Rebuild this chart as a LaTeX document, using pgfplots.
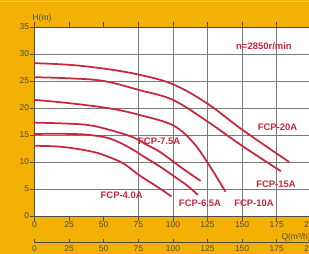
\documentclass[border=0pt]{standalone}
\usepackage{fontspec}
\setmainfont{Liberation Sans}
\usepackage{pgfplots}
\pgfplotsset{compat=1.18}
\definecolor{bgorange}{HTML}{F2B104}
\definecolor{curvered}{HTML}{C8283C}
\definecolor{gridgray}{HTML}{7A7A7A}
\definecolor{ticktext}{HTML}{4F4A40}
\tikzset{pump/.style={draw=curvered, line width=1.75bp, smooth, tension=0.6, mark=none}}
\begin{document}
\begin{tikzpicture}
\path[use as bounding box] (-34.5bp,-38bp) rectangle (274.5bp,216bp);
\clip (-34.5bp,-38bp) rectangle (274.5bp,216bp);
\fill[bgorange] (-34.5bp,-38bp) rectangle (274.5bp,216bp);
\draw[color=brown!45!white, line width=0.8bp] (-34.5bp,214.3bp) -- (274.5bp,214.3bp);
\begin{axis}[
  at={(0,0)}, anchor=south west,
  scale only axis, width=276.8bp, height=189bp,
  xmin=0, xmax=200, ymin=0, ymax=35,
  axis background/.style={fill=white},
  xtick={0,25,...,200}, ytick={0,5,...,35},
  tick align=outside, major tick length=4.5bp,
  ymajorgrids, minor xtick={75,100,...,200}, xminorgrids,
  minor tick length=0pt,
  grid style={gridgray, line width=0.6bp},
  minor grid style={gridgray, line width=0.6bp},
  axis line style={draw=black!70, line width=0.8bp},
  tick style={black!70, line width=0.6bp},
  ticklabel style={font=\fontsize{8.5}{9}\selectfont, text=ticktext},
  xticklabel style={inner sep=0.8bp},
  yticklabel style={inner sep=0.8bp},
  /pgf/number format/assume math mode=true,
  clip=false,
]
% FCP-20A
\addplot[pump] coordinates {(0,28.3)(25,28.0)(50,27.3)(75,26.2)(100,24.4)(125,20.8)(150,16.0)(184,10.0)};
% FCP-15A
\addplot[pump] coordinates {(0,25.7)(25,25.5)(50,25.0)(76,23.3)(100,21.5)(125,17.5)(150,13.0)(178,8.3)};
% FCP-10A
\addplot[pump] coordinates {(0,21.5)(25,20.9)(55,19.9)(76,18.7)(100,16.8)(115,13.5)(127,9.1)(138,4.5)};
% FCP-7.5A
\addplot[pump] coordinates {(0,17.3)(25,17.1)(40,16.8)(55,15.9)(71,14.6)(81,13.2)(91,11.8)(107,8.8)(120,6.5)};
% FCP-6.5A
\addplot[pump] coordinates {(0,15.2)(25,15.2)(40,15.0)(55,14.3)(69,12.6)(79,11.0)(91,9.1)(100,7.5)(110,5.7)(118,3.9)};
% FCP-4.0A
\addplot[pump] coordinates {(0,13.0)(20,12.8)(42,11.9)(55,10.8)(65,9.6)(76,7.5)(90,5.2)(99,3.6)};

\begin{scope}[every node/.style={font=\bfseries\fontsize{9.5}{10}\selectfont, text=curvered, inner sep=0.5bp}]
\node at (axis cs:175.6,16.4) {FCP-20A};
\node at (axis cs:174.5,5.9) {FCP-15A};
\node at (axis cs:158.6,2.4) {FCP-10A};
\node at (axis cs:119.6,2.4) {FCP-6.5A};
\node at (axis cs:90.1,13.9) {FCP-7.5A};
\node at (axis cs:63,3.9) {FCP-4.0A};
\node at (axis cs:165.8,31.5) {n=2850r/min};
\end{scope}
\node[font=\fontsize{8.5}{9}\selectfont, text=ticktext, inner sep=0.5bp] at (axis cs:5.4,36.7) {H(m)};
\node[font=\fontsize{8.5}{9}\selectfont, text=ticktext, inner sep=0.5bp, anchor=west] at (axis cs:178,-3.95) {Q(m³/h)};
\end{axis}
\begin{axis}[
  at={(0,-26.7bp)}, anchor=south west,
  scale only axis, width=276.8bp, height=5bp,
  xmin=0, xmax=200, ymin=0, ymax=1,
  hide y axis, axis x line*=bottom,
  xtick={0,25,...,200}, ytick=\empty,
  tick align=inside, major tick length=4bp,
  axis line style={draw=black!70, line width=0.8bp},
  tick style={black!70, line width=0.6bp},
  ticklabel style={font=\fontsize{8.5}{9}\selectfont, text=ticktext},
  xticklabel style={inner sep=0.8bp, yshift=-1.5bp},
  /pgf/number format/assume math mode=true,
]
\end{axis}
\end{tikzpicture}
\end{document}
